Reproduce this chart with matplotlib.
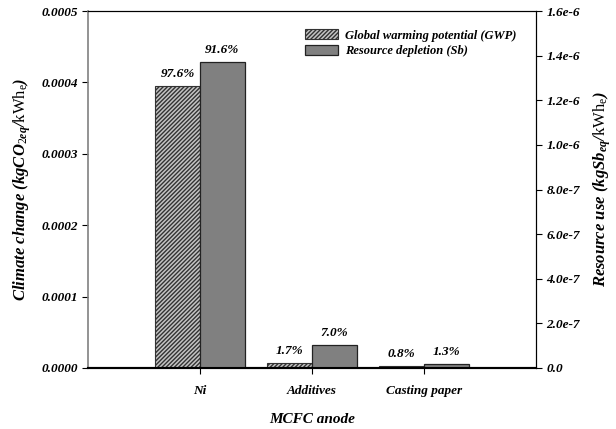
import matplotlib
matplotlib.use("Agg")
import matplotlib.pyplot as plt
import numpy as np

categories = ["Ni", "Additives", "Casting paper"]
gwp = [3.95e-4, 6.9e-6, 3.2e-6]
resource = [1.371e-6, 1.05e-7, 1.95e-8]
gwp_pct = ["97.6%", "1.7%", "0.8%"]
res_pct = ["91.6%", "7.0%", "1.3%"]
left_ticks = [0, 0.0001, 0.0002, 0.0003, 0.0004, 0.0005]
left_labels = ["0.0000", "0.0001", "0.0002", "0.0003", "0.0004", "0.0005"]
right_ticks = [0, 2e-7, 4e-7, 6e-7, 8e-7, 1.0e-6, 1.2e-6, 1.4e-6, 1.6e-6]
right_labels = ["0.0", "2.0e-7", "4.0e-7", "6.0e-7", "8.0e-7", "1.0e-6", "1.2e-6", "1.4e-6", "1.6e-6"]

plt.rcParams["font.family"] = "Liberation Serif"
plt.rcParams["font.weight"] = "bold"
plt.rcParams["font.style"] = "italic"
plt.rcParams["axes.labelweight"] = "bold"
plt.rcParams["mathtext.fontset"] = "custom"
plt.rcParams["mathtext.rm"] = "Liberation Serif:style=normal:weight=normal"
plt.rcParams["mathtext.it"] = "Liberation Serif:style=italic:weight=bold"
plt.rcParams["mathtext.bf"] = "Liberation Serif:style=normal:weight=bold"
plt.rcParams["hatch.linewidth"] = 1.0
plt.rcParams["hatch.color"] = "#222222"

fig = plt.figure(figsize=(6.16, 4.29), dpi=100)
ax = fig.add_axes([88/616, 1-368/429, 448/616, 357/429])
ax2 = ax.twinx()

x = np.arange(len(categories))
w = 0.4
b1 = ax.bar(x - w/2, gwp, w, facecolor="#c4c4c4", edgecolor="#333333",
            hatch="////////", linewidth=0.8, label="Global warming potential (GWP)")
b2 = ax2.bar(x + w/2, resource, w, facecolor="#808080", edgecolor="#222222",
             linewidth=0.9, label="Resource depletion (Sb)")

ax.set_xlim(-1, 3)
ax.set_ylim(0, 0.0005)
ax2.set_ylim(0, 1.6e-6)

ax.set_yticks(left_ticks)
ax.set_yticklabels(left_labels)
ax2.set_yticks(right_ticks)
ax2.set_yticklabels(right_labels)
ax.set_xticks(x)
ax.set_xticklabels(categories)

for a in (ax, ax2):
    a.tick_params(labelsize=9.5, length=4, width=0.8, direction="out")
ax.tick_params(axis="x", length=4, direction="out", pad=8)

ax.spines["left"].set_color("#808080")
ax.spines["left"].set_linewidth(1.2)
ax.spines["bottom"].set_linewidth(1.5)
ax2.spines["left"].set_visible(False)
ax2.spines["bottom"].set_linewidth(1.5)

for xi, v, t in zip(x, gwp, gwp_pct):
    ax.text(xi - w/2, v + 0.000008, t, ha="center", va="bottom", fontsize=9.5)
for xi, v, t in zip(x, resource, res_pct):
    ax2.text(xi + w/2, v + 2.6e-8, t, ha="center", va="bottom", fontsize=9.5)

ax.set_ylabel(r"Climate change (kgCO$_{\mathit{2eq}}$/$\mathrm{kWh}_{\mathrm{e}}$)", fontsize=12, labelpad=6)
ax2.set_ylabel(r"Resource use (kgSb$_{\mathit{eq}}$/$\mathrm{kWh}_{\mathrm{e}}$)", fontsize=12, labelpad=8)
ax.set_xlabel("MCFC anode", fontsize=11, labelpad=12)

fig.legend(handles=[b1, b2], loc="upper left", bbox_to_anchor=(300/616, 1-24/429),
           frameon=False, fontsize=9, handlelength=2.6, handleheight=0.9,
           labelspacing=0.25, borderaxespad=0, handletextpad=0.6)

fig.savefig("out.png", dpi=100)
